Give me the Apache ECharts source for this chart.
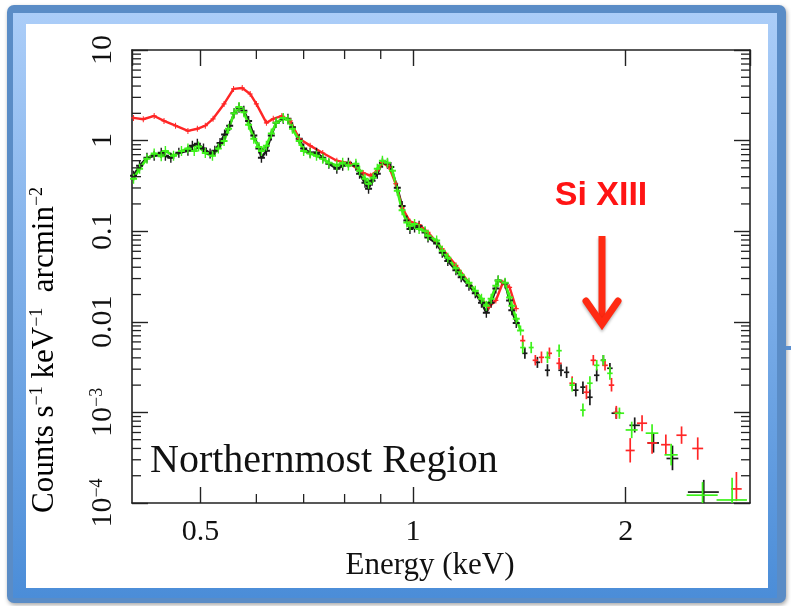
<!DOCTYPE html>
<html><head><meta charset="utf-8">
<script src="https://cdn.jsdelivr.net/npm/echarts@6/dist/echarts.min.js"></script>
<style>html,body{margin:0;padding:0;background:#fff}#c{width:791px;height:606px}</style>
</head><body><div id="c"></div>
<script>
// ---- axis ticks ----
const xTicks = [0.5, 1, 2];
const xTickLabels = ['0.5', '1', '2'];
const xMinorTicks = [0.6, 0.7, 0.8, 0.9];
const yTickExp = [-4, -3, -2, -1, 0, 1];
const yTickLabels = ['{b|10}{s|−4}', '{b|10}{s|−3}', '0.01', '0.1', '1', '10'];
const yMinorMantissa = [2, 3, 4, 5, 6, 7, 8, 9];
const yMinorDecades = [1e-4, 1e-3, 1e-2, 1e-1, 1];

// ---- dense spectra [E keV, counts] ----
const redDense = [[0.402,1.78],[0.415,1.72],[0.43,1.87],[0.444,1.65],[0.461,1.46],[0.48,1.28],[0.495,1.35],[0.508,1.46],[0.521,1.74],[0.54,2.54],[0.557,3.72],[0.573,3.81],[0.588,3.27],[0.60,2.54],[0.62,1.57],[0.634,1.74],[0.652,1.87],[0.67,1.65],[0.69,1.05],[0.715,0.88],[0.745,0.73],[0.78,0.60],[0.815,0.555],[0.85,0.44],[0.87,0.41],[0.89,0.465],[0.905,0.57],[0.925,0.51],[0.945,0.334],[0.965,0.182],[0.99,0.128],[1.02,0.118],[1.05,0.097],[1.10,0.064],[1.15,0.042],[1.20,0.027],[1.25,0.018],[1.28,0.0145],[1.31,0.0172],[1.34,0.027],[1.37,0.024],[1.40,0.014]];
const blackDense = [[0.402,0.41],[0.41,0.527],[0.42,0.647],[0.43,0.68],[0.44,0.734],[0.446,0.68],[0.454,0.647],[0.466,0.734],[0.48,0.773],[0.487,0.877],[0.495,0.922],[0.505,0.82],[0.516,0.72],[0.524,0.773],[0.533,0.94],[0.541,1.17],[0.55,1.46],[0.558,2.0],[0.567,2.3],[0.576,2.13],[0.585,1.65],[0.595,1.14],[0.605,0.82],[0.61,0.647],[0.62,0.773],[0.63,1.14],[0.64,1.57],[0.655,1.74],[0.665,1.74],[0.675,1.40],[0.69,1.05],[0.70,0.82],[0.715,0.734],[0.73,0.734],[0.745,0.647],[0.76,0.555],[0.78,0.489],[0.795,0.527],[0.81,0.57],[0.83,0.527],[0.84,0.43],[0.855,0.342],[0.865,0.295],[0.875,0.36],[0.89,0.43],[0.905,0.57],[0.92,0.555],[0.93,0.51],[0.95,0.302],[0.965,0.19],[0.98,0.131],[0.99,0.106],[1.005,0.11],[1.02,0.115],[1.04,0.097],[1.05,0.085],[1.08,0.073],[1.10,0.058],[1.12,0.047],[1.15,0.037],[1.17,0.031],[1.20,0.025],[1.225,0.0207],[1.25,0.0162],[1.27,0.0126],[1.29,0.0162],[1.31,0.0233],[1.32,0.0286],[1.35,0.0265],[1.37,0.0172],[1.38,0.0134],[1.40,0.0097]];
const greenDense = [[0.402,0.38],[0.41,0.49],[0.42,0.63],[0.43,0.72],[0.44,0.67],[0.446,0.77],[0.458,0.68],[0.47,0.77],[0.48,0.82],[0.49,0.77],[0.497,0.86],[0.508,0.73],[0.52,0.68],[0.53,0.82],[0.54,0.99],[0.548,1.35],[0.558,2.0],[0.567,2.35],[0.576,2.06],[0.585,1.5],[0.595,1.05],[0.605,0.85],[0.61,0.77],[0.62,0.88],[0.63,1.2],[0.64,1.57],[0.655,1.78],[0.665,1.70],[0.675,1.35],[0.69,0.99],[0.70,0.77],[0.715,0.72],[0.73,0.68],[0.745,0.63],[0.76,0.57],[0.78,0.53],[0.795,0.57],[0.81,0.53],[0.83,0.555],[0.84,0.465],[0.855,0.38],[0.865,0.334],[0.878,0.39],[0.89,0.49],[0.905,0.60],[0.92,0.57],[0.935,0.465],[0.95,0.28],[0.965,0.17],[0.98,0.125],[0.99,0.115],[1.005,0.12],[1.02,0.106],[1.04,0.10],[1.05,0.089],[1.08,0.079],[1.10,0.061],[1.12,0.051],[1.15,0.039],[1.17,0.033],[1.20,0.027],[1.225,0.022],[1.25,0.018],[1.27,0.015],[1.29,0.018],[1.31,0.025],[1.32,0.0286],[1.35,0.027],[1.37,0.0185],[1.38,0.015],[1.40,0.0108],[1.42,0.0080]];

// ---- binned tail [E, counts, halfWidth keV, low, high] ----
const redTail = [[1.43,0.0062,0.012,0.0054,0.0071],[1.49,0.00376,0.013,0.0033,0.0043],[1.52,0.00405,0.013,0.0035,0.0047],[1.56,0.00449,0.013,0.0039,0.0052],[1.61,0.00348,0.014,0.0030,0.0040],[1.68,0.0021,0.015,0.0018,0.0025],[1.76,0.00167,0.016,0.0014,0.0020],[1.80,0.00376,0.016,0.0033,0.0043],[1.87,0.00331,0.017,0.0029,0.0038],[1.91,0.0020,0.017,0.0017,0.0024],[1.94,0.0010,0.018,0.00085,0.00118],[2.03,0.00038,0.030,0.00028,0.00052],[2.11,0.00076,0.035,0.00062,0.00093],[2.18,0.00046,0.035,0.00035,0.00060],[2.28,0.00044,0.035,0.00034,0.00057],[2.40,0.00056,0.04,0.00045,0.00070],[2.53,0.00040,0.045,0.00030,0.00053],[2.87,0.000143,0.05,0.000105,0.00022]];
const blackTail = [[1.44,0.00449,0.012,0.0039,0.0052],[1.50,0.00357,0.013,0.0031,0.0041],[1.55,0.00292,0.013,0.0025,0.0034],[1.62,0.00292,0.014,0.0025,0.0034],[1.65,0.00277,0.014,0.0024,0.0032],[1.70,0.00176,0.015,0.0015,0.0021],[1.74,0.0019,0.015,0.0016,0.0022],[1.78,0.00147,0.016,0.0012,0.0018],[1.82,0.00257,0.016,0.0022,0.0030],[1.86,0.00376,0.016,0.0033,0.0043],[1.90,0.00307,0.017,0.0027,0.0035],[1.94,0.00098,0.03,0.00085,0.00113],[2.06,0.00072,0.035,0.0006,0.00088],[2.19,0.00046,0.04,0.00036,0.00059],[2.33,0.00031,0.045,0.00023,0.00043],[2.58,0.000132,0.13,0.0001,0.00018]];
const greenTail = [[1.43,0.0052,0.012,0.0045,0.006],[1.47,0.0052,0.012,0.0045,0.006],[1.55,0.00405,0.013,0.0035,0.0047],[1.61,0.0048,0.014,0.0041,0.0056],[1.68,0.0020,0.015,0.0017,0.0024],[1.74,0.00106,0.015,0.0009,0.00125],[1.78,0.0021,0.016,0.0018,0.0025],[1.82,0.00331,0.016,0.0029,0.0038],[1.86,0.00376,0.016,0.0033,0.0043],[1.90,0.0027,0.017,0.0023,0.0032],[1.96,0.00098,0.03,0.00085,0.00113],[2.04,0.00064,0.04,0.00052,0.00079],[2.18,0.00059,0.045,0.00047,0.00074],[2.32,0.00034,0.05,0.00026,0.00045],[2.57,0.000122,0.13,0.0001,0.00017],[2.83,0.000108,0.14,0.0001,0.00019]];

const RED = '#ff2626', BLACK = '#1a1a1a', GREEN = '#3df21a';
const SERIF = 'Liberation Serif';
const AX = '#222';
const plus = 'path://M0,4L10,4L10,6L0,6ZM4,0L6,0L6,10L4,10Z';

const chart = echarts.init(document.getElementById('c'), null, {renderer: 'canvas'});

function denseSeries(data, color, size, lw) {
  return {type: 'line', data: data, symbol: plus, symbolSize: size, showSymbol: true,
    lineStyle: {color: color, width: lw}, itemStyle: {color: color}, silent: true, animation: false, clip: true};
}
function tailSeries(data, color) {
  return {type: 'custom', data: data, encode: {x: 0, y: 1}, silent: true, animation: false, clip: true,
    renderItem: function (params, api) {
      const e = api.value(0), y = api.value(1), de = api.value(2), lo = api.value(3), hi = api.value(4);
      const a = api.coord([e - de, y]), b = api.coord([e + de, y]);
      const c = api.coord([e, lo]), d = api.coord([e, hi]);
      return {type: 'group', children: [
        {type: 'line', shape: {x1: a[0], y1: a[1], x2: b[0], y2: b[1]}, style: {stroke: color, lineWidth: 1.7}},
        {type: 'line', shape: {x1: c[0], y1: c[1], x2: d[0], y2: d[1]}, style: {stroke: color, lineWidth: 1.7}}
      ]};
    }};
}
const yMinorTicks = [];
yMinorDecades.forEach(function (d) { yMinorMantissa.forEach(function (m) { yMinorTicks.push(m * d); }); });

const minorTickSeries = {type: 'custom', data: [[1, 1]], encode: {x: 0, y: 1}, silent: true, animation: false, z: 5,
  renderItem: function (params, api) {
    const cs = params.coordSys;
    const L = cs.x, R = cs.x + cs.width, T = cs.y, B = cs.y + cs.height;
    const st = {stroke: AX, lineWidth: 1.3};
    const ch = [];
    xMinorTicks.forEach(function (v) {
      const p = api.coord([v, 1])[0];
      ch.push({type: 'line', shape: {x1: p, y1: B, x2: p, y2: B - 9}, style: st});
      ch.push({type: 'line', shape: {x1: p, y1: T, x2: p, y2: T + 9}, style: st});
    });
    yMinorTicks.forEach(function (v) {
      const p = api.coord([1, v])[1];
      ch.push({type: 'line', shape: {x1: L, y1: p, x2: L + 9, y2: p}, style: st});
      ch.push({type: 'line', shape: {x1: R, y1: p, x2: R - 9, y2: p}, style: st});
    });
    return {type: 'group', children: ch};
  }};

function xLabel(v) {
  for (let i = 0; i < xTicks.length; i++) if (Math.abs(v - xTicks[i]) < 1e-6) return xTickLabels[i];
  return '';
}
function yLabel(v) {
  const e = Math.round(Math.log10(v));
  const i = yTickExp.indexOf(e);
  return i >= 0 ? yTickLabels[i] : '';
}
const axLine = {show: true, onZero: false, lineStyle: {color: AX, width: 1.6}};
const axTick = {show: true, inside: true, length: 16, lineStyle: {color: AX, width: 1.4}};

chart.setOption({
  backgroundColor: '#fff',
  animation: false,
  grid: {left: 132, right: 41, top: 50, bottom: 103, containLabel: false},
  xAxis: [
    {type: 'log', logBase: 2, min: 0.4, max: 3, position: 'bottom', axisLine: axLine, axisTick: axTick,
     splitLine: {show: false}, minorTick: {show: false},
     axisLabel: {formatter: xLabel, fontFamily: SERIF, fontSize: 30, color: '#111', margin: 14, showMinLabel: false, showMaxLabel: false}},
    {type: 'log', logBase: 2, min: 0.4, max: 3, position: 'top', axisLine: axLine, axisTick: axTick,
     splitLine: {show: false}, axisLabel: {show: false}}
  ],
  yAxis: [
    {type: 'log', logBase: 10, min: 1e-4, max: 10, position: 'left', axisLine: axLine, axisTick: axTick,
     splitLine: {show: false},
     axisLabel: {formatter: yLabel, rotate: 90, fontFamily: SERIF, fontSize: 30, color: '#111', margin: 14,
       rich: {b: {fontFamily: SERIF, fontSize: 30, color: '#111'}, s: {fontFamily: SERIF, fontSize: 18, color: '#111', verticalAlign: 'top', lineHeight: 14}}}},
    {type: 'log', logBase: 10, min: 1e-4, max: 10, position: 'right', axisLine: axLine, axisTick: axTick,
     splitLine: {show: false}, axisLabel: {show: false}}
  ],
  series: [
    minorTickSeries,
    denseSeries(blackDense, BLACK, [7, 10], 2.4),
    tailSeries(blackTail, BLACK),
    denseSeries(redDense, RED, [5, 6], 2.4),
    tailSeries(redTail, RED),
    denseSeries(greenDense, GREEN, [7, 10], 2.6),
    tailSeries(greenTail, GREEN)
  ],
  graphic: [
    {type: 'rect', z: -10, shape: {x: 7, y: 5, width: 779, height: 598, r: 7},
     style: {fill: '#5a8cc6', shadowBlur: 4, shadowColor: 'rgba(0,0,0,0.35)', shadowOffsetX: 1, shadowOffsetY: 2}},
    {type: 'rect', z: -9, shape: {x: 13, y: 13, width: 764, height: 585},
     style: {fill: new echarts.graphic.LinearGradient(0, 0, 0, 1, [{offset: 0, color: '#abcdf8'}, {offset: 1, color: '#4b8dd8'}])}},
    {type: 'rect', z: -8, shape: {x: 26, y: 24, width: 742, height: 564}, style: {fill: '#fff'}},
    {type: 'rect', z: -8, shape: {x: 786, y: 346, width: 5, height: 4}, style: {fill: '#5a8fcf'}},
    {type: 'text', z: 10, x: 150, y: 461,
     style: {text: 'Northernmost Region', font: '40px "Liberation Serif"', fill: '#111', align: 'left', verticalAlign: 'middle'}},
    {type: 'text', z: 10, x: 430, y: 566,
     style: {text: 'Energy (keV)', font: '31px "Liberation Serif"', fill: '#111', align: 'center', verticalAlign: 'middle'}},
    {type: 'text', z: 10, x: 45, y: 350, rotation: Math.PI / 2,
     style: {text: '{n|Counts s}{s|−1}{n| keV}{s|−1}{n|  arcmin}{s|−2}', align: 'center', verticalAlign: 'middle',
       rich: {n: {fontFamily: SERIF, fontSize: 31, color: '#111', lineHeight: 34}, s: {fontFamily: SERIF, fontSize: 18, color: '#111', verticalAlign: 'top', lineHeight: 18}}}},
    {type: 'text', z: 10, x: 601, y: 196,
     style: {text: 'Si XIII', font: 'bold 34px "Liberation Sans"', fill: '#ff1414', align: 'center', verticalAlign: 'middle'}},
    {type: 'polyline', z: 10, shape: {points: [[602, 236], [602, 322]]},
     style: {stroke: '#ff2a12', lineWidth: 7, lineCap: 'butt', shadowBlur: 3, shadowColor: 'rgba(0,0,0,0.3)', shadowOffsetY: 2}},
    {type: 'polyline', z: 10, shape: {points: [[586, 301], [602, 324], [618, 301]]},
     style: {stroke: '#ff2a12', fill: null, lineWidth: 7, lineCap: 'round', lineJoin: 'miter', shadowBlur: 3, shadowColor: 'rgba(0,0,0,0.3)', shadowOffsetY: 2}}
  ]
});
</script></body></html>
